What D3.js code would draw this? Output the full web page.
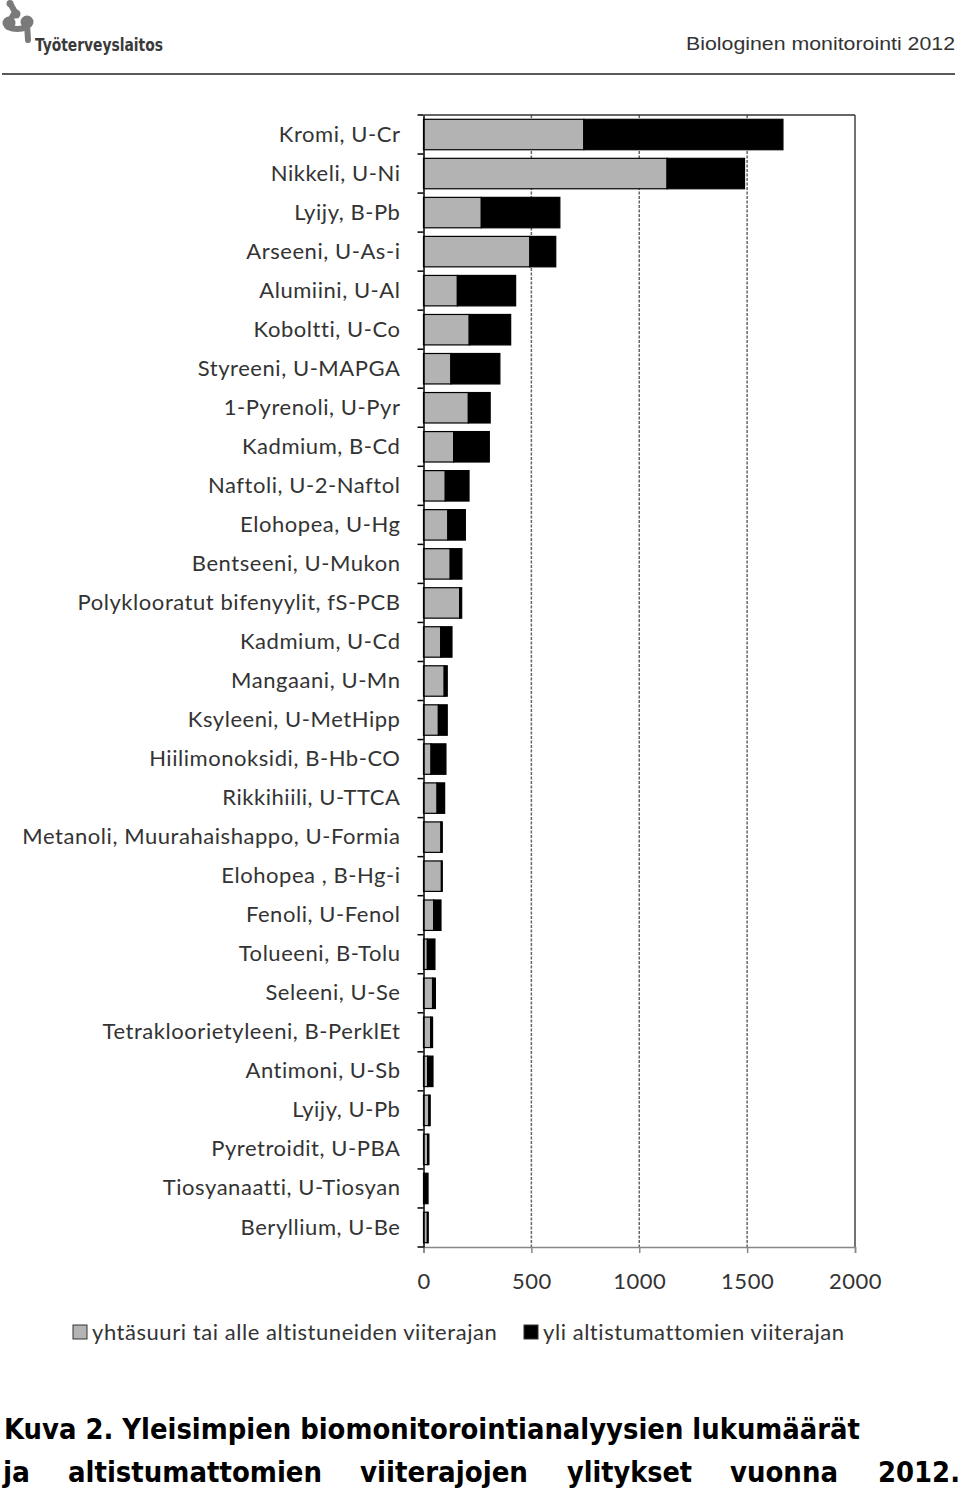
<!DOCTYPE html>
<html><head><meta charset="utf-8">
<script src="https://cdn.jsdelivr.net/npm/d3@7"></script>
<style>body{margin:0;background:#fff}</style>
</head><body>
<svg id="c" width="960" height="1490"></svg>
<script>
const categories = ["Kromi, U-Cr","Nikkeli, U-Ni","Lyijy, B-Pb","Arseeni, U-As-i","Alumiini, U-Al","Koboltti, U-Co","Styreeni, U-MAPGA","1-Pyrenoli, U-Pyr","Kadmium, B-Cd","Naftoli, U-2-Naftol","Elohopea, U-Hg","Bentseeni, U-Mukon","Polyklooratut bifenyylit, fS-PCB","Kadmium, U-Cd","Mangaani, U-Mn","Ksyleeni, U-MetHipp","Hiilimonoksidi, B-Hb-CO","Rikkihiili, U-TTCA","Metanoli, Muurahaishappo, U-Formia","Elohopea , B-Hg-i","Fenoli, U-Fenol","Tolueeni, B-Tolu","Seleeni, U-Se","Tetrakloorietyleeni, B-PerklEt","Antimoni, U-Sb","Lyijy, U-Pb","Pyretroidit, U-PBA","Tiosyanaatti, U-Tiosyan","Beryllium, U-Be"];
const belowValues = [743,1129,268,493,157,212,127,208,140,101,113,124,168,80,96,69,35,63,81,83,47,18,42,33,19,25,19,4,18];
const aboveValues = [923,359,364,120,270,192,227,101,165,110,81,54,9,52,14,41,69,35,6,4,34,35,13,9,25,6,6,17,4];
const xTicks = [0,500,1000,1500,2000];
const seriesNames = ["yhtäsuuri tai alle altistuneiden viiterajan","yli altistumattomien viiterajan"];
const seriesColors = ["#b3b3b3","#000000"];
const headerTitle = "Biologinen monitorointi 2012";
const logoText = "Työterveyslaitos";
const captionLine1 = "Kuva 2. Yleisimpien biomonitorointianalyysien lukumäärät";
const captionLine2 = ["ja","altistumattomien","viiterajojen","ylitykset","vuonna","2012."];

const svg = d3.select("#c");
const L = 423.5, R = 855, T = 115, B = 1247;
const x = d3.scaleLinear().domain([0,2000]).range([L,R]);
const y = d3.scaleBand().domain(categories).range([T,B]).paddingInner(0.22).paddingOuter(0.11);
const labelFont = {family:"Lato", size:22, ls:0.55};

// header logo
const logo = svg.append("g").attr("fill","#7a7a7a").attr("stroke","#7a7a7a");
logo.append("circle").attr("cx",10).attr("cy",3.5).attr("r",3.5).attr("stroke","none");
logo.append("circle").attr("cx",16).attr("cy",14).attr("r",4.5).attr("stroke","none");
logo.append("circle").attr("cx",9).attr("cy",23).attr("r",6.5).attr("stroke","none");
logo.append("circle").attr("cx",27).attr("cy",22).attr("r",6.5).attr("stroke","none");
logo.append("path").attr("d","M11,5 L15,12 L9,22 M8,27 Q17,31 27,27 M27,24 L28,40")
  .attr("fill","none").attr("stroke-width",6).attr("stroke-linecap","round").attr("stroke-linejoin","round");
svg.append("text").attr("x",35).attr("y",51).text(logoText)
  .attr("font-family","DejaVu Sans Condensed, DejaVu Sans").attr("font-weight","bold")
  .attr("font-size",17).attr("fill","#3a3a3a").attr("textLength",128).attr("lengthAdjust","spacingAndGlyphs");
svg.append("text").attr("x",955).attr("y",50).attr("text-anchor","end").text(headerTitle)
  .attr("font-family","Liberation Sans, Arial").attr("font-size",19).attr("fill","#333")
  .attr("textLength",269).attr("lengthAdjust","spacingAndGlyphs");
svg.append("line").attr("x1",2).attr("x2",955).attr("y1",74).attr("y2",74).attr("stroke","#222").attr("stroke-width",1.5);

// grid
svg.append("g").selectAll("line").data(xTicks.filter(d=>d>0 && d<2000)).join("line")
  .attr("x1",d=>x(d)).attr("x2",d=>x(d)).attr("y1",T).attr("y2",B)
  .attr("stroke","#666").attr("stroke-width",1.5).attr("stroke-dasharray","3,1.5");
svg.append("line").attr("x1",R).attr("x2",R).attr("y1",T).attr("y2",B).attr("stroke","#444").attr("stroke-width",1.5);
svg.append("line").attr("x1",L).attr("x2",R).attr("y1",T).attr("y2",T).attr("stroke","#333").attr("stroke-width",1.5);

// bars
const rows = categories.map((c,i)=>({c, a:belowValues[i], b:aboveValues[i]}));
const g = svg.append("g");
g.selectAll("rect.a").data(rows).join("rect").attr("class","a")
  .attr("x",x(0)).attr("y",d=>y(d.c)).attr("width",d=>x(d.a)-x(0)).attr("height",y.bandwidth())
  .attr("fill",seriesColors[0]).attr("stroke","#000").attr("stroke-width",1.2);
g.selectAll("rect.b").data(rows).join("rect").attr("class","b")
  .attr("x",d=>x(d.a)).attr("y",d=>y(d.c)).attr("width",d=>x(d.a+d.b)-x(d.a)).attr("height",y.bandwidth())
  .attr("fill",seriesColors[1]).attr("stroke","#000").attr("stroke-width",1.2);

// x axis
const xa = svg.append("g").attr("transform",`translate(0,${B})`)
  .call(d3.axisBottom(x).tickValues(xTicks).tickSize(6).tickPadding(20).tickFormat(d3.format("d")));
xa.select(".domain").attr("stroke","#888").attr("stroke-width",1.5);
xa.selectAll(".tick line").attr("stroke","#888").attr("stroke-width",1.5);
xa.selectAll("text").attr("font-family",labelFont.family).attr("font-size",22).attr("fill","#333").attr("letter-spacing",0.5);

// y axis
const ya = svg.append("g").attr("transform",`translate(${L},0)`)
  .call(d3.axisLeft(y).tickSize(0).tickPadding(23));
ya.select(".domain").attr("stroke","#000").attr("stroke-width",1.5);
ya.selectAll("text").attr("font-family",labelFont.family).attr("font-size",labelFont.size)
  .attr("letter-spacing",labelFont.ls).attr("fill","#333");
const step = y.step();
svg.append("g").selectAll("line").data(d3.range(categories.length+1)).join("line")
  .attr("x1",L-6).attr("x2",L).attr("y1",i=>T+i*step).attr("y2",i=>T+i*step)
  .attr("stroke","#000").attr("stroke-width",1.5);

// legend
const legX = [73,524];
const lg = svg.append("g");
seriesNames.forEach((s,i)=>{
  lg.append("rect").attr("x",legX[i]).attr("y",1325).attr("width",14).attr("height",14)
    .attr("fill",seriesColors[i]).attr("stroke","#333").attr("stroke-width",1);
  lg.append("text").attr("x",legX[i]+19).attr("y",1340).text(s)
    .attr("font-family",labelFont.family).attr("font-size",labelFont.size)
    .attr("letter-spacing",labelFont.ls).attr("fill","#333");
});

// caption
svg.append("text").attr("x",4).attr("y",1439).text(captionLine1)
  .attr("font-family","DejaVu Sans Condensed, DejaVu Sans").attr("font-weight","bold").attr("font-size",28)
  .attr("fill","#000").attr("textLength",856).attr("lengthAdjust","spacingAndGlyphs");
const wordPos = [[3,27],[68,254],[360,168],[567,125],[730,108],[878,82]];
captionLine2.forEach((w,i)=>{
  svg.append("text").attr("x",wordPos[i][0]).attr("y",1482).text(w)
    .attr("font-family","DejaVu Sans Condensed, DejaVu Sans").attr("font-weight","bold").attr("font-size",28)
    .attr("fill","#000").attr("textLength",wordPos[i][1]).attr("lengthAdjust","spacingAndGlyphs");
});
</script>
</body></html>
